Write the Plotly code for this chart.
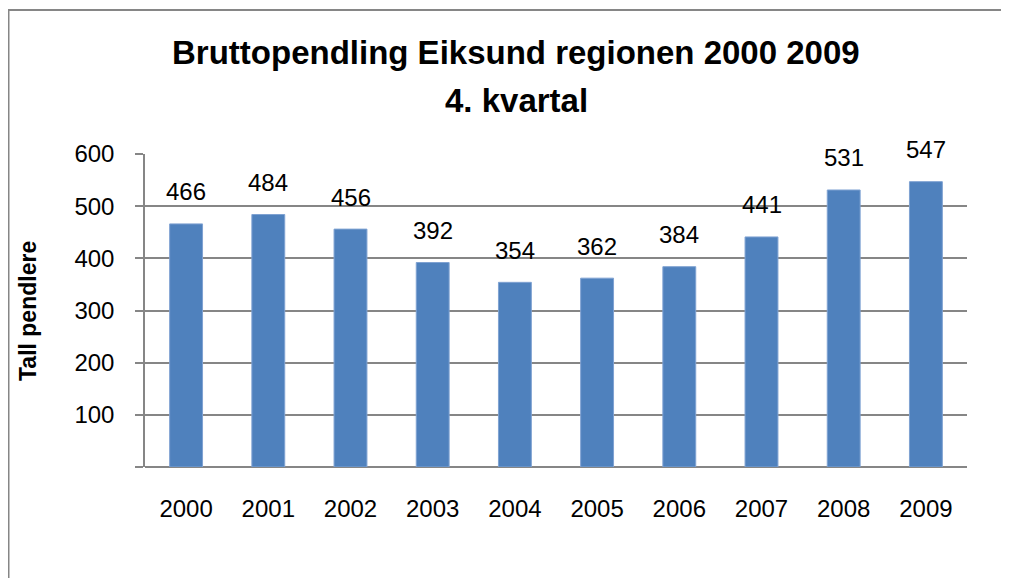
import plotly.graph_objects as go

years = ["2000", "2001", "2002", "2003", "2004", "2005", "2006", "2007", "2008", "2009"]
values = [466, 484, 456, 392, 354, 362, 384, 441, 531, 547]
y_ticks = [0, 100, 200, 300, 400, 500, 600]
y_ticktext = ["", "100", "200", "300", "400", "500", "600"]

# figure sits inside the page's default 8px body margin
W, H = 1001, 570
L, R, T, B = 137, 42, 146, 111
pw, ph = W - L - R, H - T - B

font_main = "Liberation Sans, Arial, sans-serif"
grey = "#868686"

fig = go.Figure()
fig.add_trace(go.Bar(
    x=list(range(len(years))), y=values,
    marker=dict(color="#4F81BD", line=dict(color="#7FA2D2", width=1)),
    hovertext=years, hoverinfo="text+y",
))

for i, v in enumerate(values):
    fig.add_annotation(x=i, y=v, xref="x", yref="y", text=str(v), showarrow=False,
                       yshift=32, yanchor="middle", xanchor="center",
                       font=dict(family=font_main, size=24, color="#000000"))

def px_x(px):
    return (px - L) / pw

def px_y(py):
    return (H - B - py) / ph

# outer chart border (left and top visible)
fig.add_shape(type="line", xref="paper", yref="paper",
              x0=px_x(0), x1=px_x(W + 5), y0=px_y(2), y1=px_y(2),
              line=dict(color=grey, width=2))
fig.add_shape(type="line", xref="paper", yref="paper",
              x0=px_x(0.5), x1=px_x(0.5), y0=px_y(2), y1=px_y(H + 5),
              line=dict(color=grey, width=2))

# title
fig.add_annotation(xref="paper", yref="paper", x=px_x(508), y=px_y(44),
                   text="<b>Bruttopendling Eiksund regionen 2000 2009</b>",
                   showarrow=False, xanchor="center", yanchor="middle",
                   font=dict(family=font_main, size=33, color="#000000"))
fig.add_annotation(xref="paper", yref="paper", x=px_x(508), y=px_y(92),
                   text="<b>4. kvartal</b>",
                   showarrow=False, xanchor="center", yanchor="middle",
                   font=dict(family=font_main, size=33, color="#000000"))

# y axis title
fig.add_annotation(xref="paper", yref="paper", x=px_x(20), y=px_y(303),
                   text="<b>Tall pendlere</b>", textangle=-90,
                   showarrow=False, xanchor="center", yanchor="middle",
                   font=dict(family=font_main, size=23, color="#000000"))

fig.update_layout(
    width=W, height=H,
    margin=dict(l=L, r=R, t=T, b=B, autoexpand=False),
    paper_bgcolor="white", plot_bgcolor="white",
    bargap=0.6,
    showlegend=False,
    font=dict(family=font_main, size=24, color="#000000"),
)
fig.update_xaxes(
    range=[-0.5, len(years) - 0.5],
    tickvals=list(range(len(years))), ticktext=years,
    showgrid=False, ticks="", showline=False, zeroline=False,
    tickfont=dict(family=font_main, size=24, color="#000000"),
    ticklabelstandoff=25,
)
fig.update_yaxes(
    range=[0, 600], tickvals=y_ticks, ticktext=y_ticktext,
    showgrid=True, gridcolor=grey, gridwidth=1.5,
    ticks="outside", ticklen=8, tickcolor=grey, tickwidth=1.5,
    showline=True, linecolor=grey, linewidth=1.5,
    zeroline=True, zerolinecolor=grey, zerolinewidth=2,
    tickfont=dict(family=font_main, size=24, color="#000000"),
    ticklabelstandoff=16,
)

fig.write_html("out.html")
